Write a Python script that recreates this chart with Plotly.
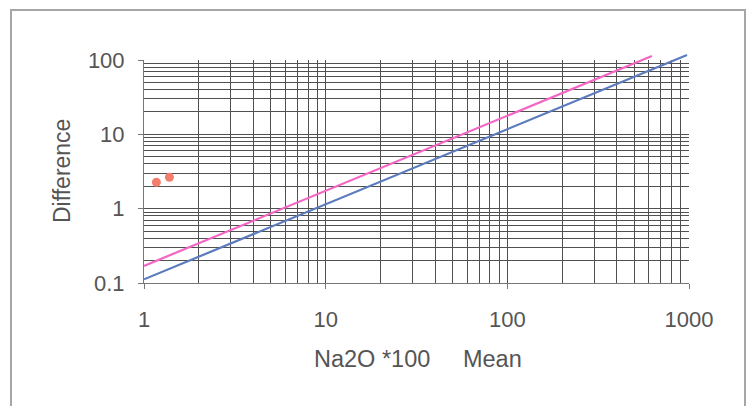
import plotly.graph_objects as go

# ---- data ----
x_tick_vals = [1, 10, 100, 1000]
x_tick_text = ["1", "10", "100", "1000"]
y_tick_vals = [0.1, 1, 10, 100]
y_tick_text = ["0.1", "1", "10", "100"]

dots_x = [1.17, 1.38]
dots_y = [2.27, 2.65]

pink_x = [1, 625]
pink_y = [0.17, 113]

blue_x = [1, 975]
blue_y = [0.112, 117]

# minor gridline positions (2..9 within each decade)
x_minor = [m * 10 ** d for d in range(0, 3) for m in range(2, 10)]
y_minor = [m * 10 ** d for d in range(-1, 2) for m in range(2, 10)]

W, H = 751, 406
L, R, T, B = 144, 62, 50, 123
PW = W - L - R
PH = H - T - B
main_top = 223 / PH

FONT = "Liberation Sans, Arial, sans-serif"
TXT = "#555555"
GRID = "#505050"

fig = go.Figure()

# dummy trace on main axes (grid / ticks)
fig.add_trace(go.Scatter(x=[1], y=[1], mode="markers", marker=dict(opacity=0),
                         showlegend=False, hoverinfo="skip"))
# data on a second, slightly taller subplot with identical scale,
# so the lines can run a little above the top gridline as in the original
fig.add_trace(go.Scatter(x=blue_x, y=blue_y, mode="lines",
                         line=dict(color="#5b7bbd", width=2.2),
                         xaxis="x2", yaxis="y2", showlegend=False))
fig.add_trace(go.Scatter(x=pink_x, y=pink_y, mode="lines",
                         line=dict(color="#f466c4", width=2.2),
                         xaxis="x2", yaxis="y2", showlegend=False))
fig.add_trace(go.Scatter(x=dots_x, y=dots_y, mode="markers",
                         marker=dict(color="#f47e6c", size=9),
                         xaxis="x2", yaxis="y2", showlegend=False))

decade_px = 223 / 3.0
y2_top = 2 + (PH - 223) / decade_px

fig.update_layout(
    width=W, height=H,
    margin=dict(l=L, r=R, t=T, b=B),
    paper_bgcolor="white", plot_bgcolor="rgba(0,0,0,0)",
    font=dict(family=FONT, size=22, color=TXT),
    xaxis=dict(type="log", range=[0, 3], domain=[0, 1], anchor="y",
               tickvals=x_tick_vals, ticktext=x_tick_text,
               showgrid=True, gridcolor=GRID, gridwidth=1,
               minor=dict(tickvals=x_minor, showgrid=True, gridcolor=GRID, gridwidth=1),
               showline=True, linecolor="#777777", linewidth=1,
               ticks="outside", ticklen=5, tickcolor="#777777",
               ticklabelstandoff=12, zeroline=False,
               tickfont=dict(size=22, color=TXT)),
    yaxis=dict(type="log", range=[-1, 2], domain=[0, main_top], anchor="x",
               tickvals=y_tick_vals, ticktext=y_tick_text,
               showgrid=True, gridcolor=GRID, gridwidth=1,
               minor=dict(tickvals=y_minor, showgrid=True, gridcolor=GRID, gridwidth=1),
               showline=True, linecolor="#777777", linewidth=1,
               ticks="outside", ticklen=5, tickcolor="#777777",
               ticklabelstandoff=9, zeroline=False,
               tickfont=dict(size=22, color=TXT)),
    xaxis2=dict(type="log", range=[0, 3], domain=[0, 1], anchor="y2",
                visible=False, showgrid=False),
    yaxis2=dict(type="log", range=[-1, y2_top], domain=[0, 1], anchor="x2",
                visible=False, showgrid=False),
    annotations=[
        dict(text="Na2O *100\u00a0\u00a0\u00a0\u00a0 Mean", xref="paper", yref="paper",
             x=(418 - L) / PW, y=(T + PH - 359) / PH, xanchor="center", yanchor="middle",
             showarrow=False, font=dict(size=23.5, color=TXT, family=FONT)),
        dict(text="Difference", xref="paper", yref="paper",
             x=(62 - L) / PW, y=(T + PH - 171) / PH, xanchor="center", yanchor="middle",
             textangle=-90, showarrow=False, font=dict(size=23, color=TXT, family=FONT)),
    ],
    shapes=[
        dict(type="rect", xref="paper", yref="paper", layer="below",
             x0=(11 - L) / PW, x1=(745 - L) / PW,
             y0=(T + PH - 430) / PH, y1=(T + PH - 10) / PH,
             line=dict(color="#a6a6a6", width=2), fillcolor="rgba(0,0,0,0)"),
    ],
)

fig.write_html("out.html", config={"displayModeBar": False},
               post_script="document.body.style.margin='0';")
